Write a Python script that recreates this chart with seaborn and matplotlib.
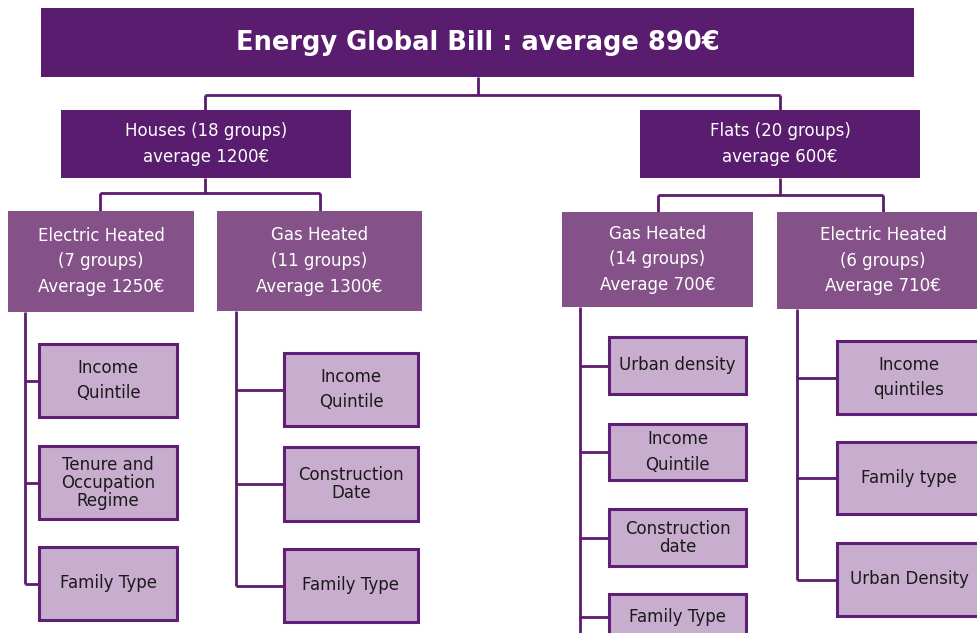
import matplotlib
matplotlib.use("Agg")
import matplotlib.pyplot as plt
from matplotlib.patches import Rectangle
import seaborn as sns

# ---------------- data ----------------
title = "Energy Global Bill : average 890€"
level1_labels = ["Houses (18 groups)\naverage 1200€", "Flats (20 groups)\naverage 600€"]
level2_labels = [
    "Electric Heated\n(7 groups)\nAverage 1250€",
    "Gas Heated\n(11 groups)\nAverage 1300€",
    "Gas Heated\n(14 groups)\nAverage 700€",
    "Electric Heated\n(6 groups)\nAverage 710€",
]
leaves_house_elec = ["Income\nQuintile", "Tenure and\nOccupation\nRegime", "Family Type"]
leaves_house_gas = ["Income\nQuintile", "Construction\nDate", "Family Type"]
leaves_flat_gas = ["Urban density", "Income\nQuintile", "Construction\ndate", "Family Type"]
leaves_flat_elec = ["Income\nquintiles", "Family type", "Urban Density"]

# ---------------- style ----------------
sns.set_theme(style="white")
plt.rcParams["font.family"] = ["DejaVu Sans"]

DARK = "#5a1c6e"
MID = "#845288"
LIGHT = "#c8adcf"
EDGE = "#5e1f77"

W, H = 978, 633
fig = plt.figure(figsize=(W / 100, H / 100), dpi=100)
ax = fig.add_axes([0, 0, 1, 1])
ax.set_xlim(0, W)
ax.set_ylim(H, 0)
ax.axis("off")


def box(x0, y0, x1, y1, fc, text, color="white", fs=12, ls=1.55, weight="normal",
        ec="none", lw=0):
    ax.add_patch(Rectangle((x0, y0), x1 - x0, y1 - y0, facecolor=fc, edgecolor=ec,
                           linewidth=lw, zorder=2, clip_on=False))
    ax.text((x0 + x1) / 2, (y0 + y1) / 2, text, ha="center", va="center", color=color,
            fontsize=fs, linespacing=ls, fontweight=weight, zorder=3)


def line(xs, ys):
    ax.plot(xs, ys, color=DARK, lw=2.0, solid_capstyle="butt", zorder=1,
            clip_on=False)


# title box
box(41, 8, 914, 77, DARK, title, fs=18.5, weight="bold")

# level 1
l1_boxes = [(61, 110, 351, 178), (640, 110, 920, 178)]
for (b, t) in zip(l1_boxes, level1_labels):
    box(*b, DARK, t, fs=12, ls=1.6)
line([478, 478], [77, 95])
line([205, 780], [95, 95])
line([205, 205], [95, 110])
line([780, 780], [95, 110])

# level 2
l2_boxes = [(8, 211, 194, 312), (217, 211, 422, 311), (562, 212, 753, 307), (777, 212, 990, 309)]
for (b, t) in zip(l2_boxes, level2_labels):
    if b[2] > W:
        ax.add_patch(Rectangle((b[0], b[1]), b[2] - b[0], b[3] - b[1], facecolor=MID,
                               edgecolor="none", zorder=2, clip_on=True))
        ax.text(883, (b[1] + b[3]) / 2, t, ha="center", va="center", color="white",
                fontsize=12, linespacing=1.55, zorder=3)
    else:
        box(*b, MID, t, fs=12, ls=1.55)

line([205, 205], [178, 193]); line([100, 320], [193, 193])
line([100, 100], [193, 211]); line([320, 320], [193, 211])
line([780, 780], [178, 195]); line([658, 883], [195, 195])
line([658, 658], [195, 212]); line([883, 883], [195, 212])


def leaf_group(vx, ytop, x0, x1, rows, labels, spacings):
    ybranch = [(r[0] + r[1]) / 2 for r in rows]
    ybottom = ybranch[-1]
    line([vx, vx], [ytop, ybottom])
    for (r, t, s, yb) in zip(rows, labels, spacings, ybranch):
        line([vx, x0], [yb, yb])
        ax.add_patch(Rectangle((x0, r[0]), x1 - x0, r[1] - r[0], facecolor=LIGHT,
                               edgecolor=EDGE, linewidth=2.2, zorder=2, clip_on=True))
        cx = (x0 + x1) / 2 if x1 < 1000 else 909
        ax.text(cx, (r[0] + r[1]) / 2, t, ha="center", va="center", color="#1a1a1a",
                fontsize=12, linespacing=s, zorder=3)


leaf_group(25, 312, 39, 177, [(344, 417), (446, 519), (547, 620)],
           leaves_house_elec, [1.55, 1.0, 1.2])
leaf_group(236, 311, 284, 418, [(353, 426), (447, 521), (549, 622)],
           leaves_house_gas, [1.55, 1.0, 1.2])
leaf_group(580, 307, 609, 746, [(337, 394), (424, 480), (509, 566), (594, 640)],
           leaves_flat_gas, [1.2, 1.55, 1.0, 1.2])
line([580, 580], [615, 633])
leaf_group(797, 309, 837, 1040, [(341, 414), (442, 514), (543, 616)],
           leaves_flat_elec, [1.55, 1.2, 1.2])

fig.savefig("out.png", dpi=100)
